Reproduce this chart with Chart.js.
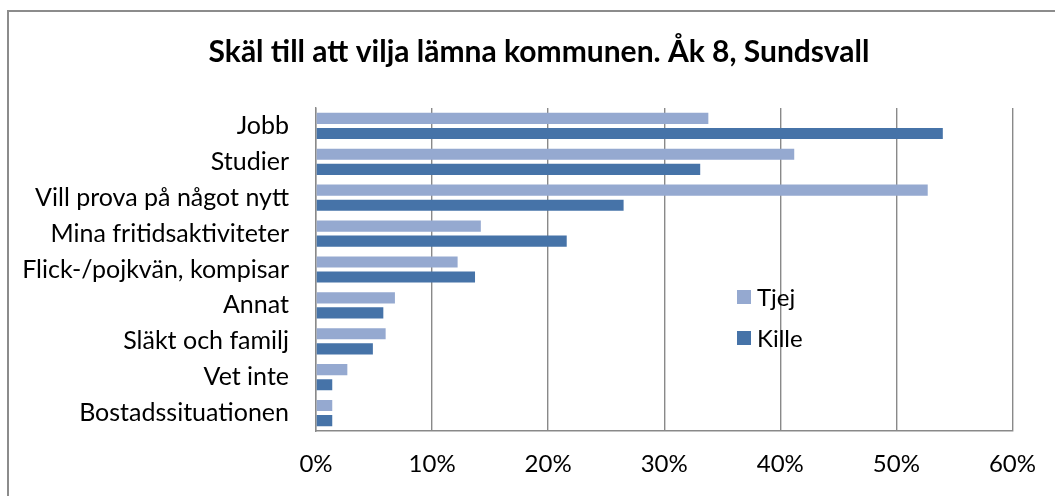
<!DOCTYPE html>
<html>
<head>
<meta charset="utf-8">
<title>Skäl till att vilja lämna kommunen</title>
<script src="https://cdn.jsdelivr.net/npm/chart.js@4.4.0/dist/chart.umd.min.js"></script>
<style>
  html, body { margin: 0; padding: 0; background: #ffffff; }
  #wrap { width: 1055px; height: 496px; position: relative; }
</style>
</head>
<body>
<div id="wrap"><canvas id="bar-chart" width="1055" height="496"></canvas></div>
<script>
// ===============================================================================
// 1. Data (in percent)
// ===============================================================================
var categories = ['Jobb', 'Studier', 'Vill prova på något nytt', 'Mina fritidsaktiviteter',
                  'Flick-/pojkvän, kompisar', 'Annat', 'Släkt och familj', 'Vet inte',
                  'Bostadssituationen'];
var tjejValues  = [33.8, 41.2, 52.7, 14.2, 12.2, 6.8, 6.0, 2.7, 1.4];
var killeValues = [54.0, 33.1, 26.5, 21.6, 13.7, 5.8, 4.9, 1.4, 1.4];
var seriesNames = ['Tjej', 'Kille'];
var xTicks = [0, 10, 20, 30, 40, 50, 60];

var titleText = 'Skäl till att vilja lämna kommunen. Åk 8, Sundsvall';
var fontName = 'Lato, "Open Sans", sans-serif';
var tjejColor = '#95a9d0';
var killeColor = '#4673a8';
var gridColor = '#898989';

// ===============================================================================
// 2. Small plugins: outer frame, title and a legend sitting inside the plot area
// ===============================================================================
var framePlugin = {
  id: 'frame',
  beforeDraw: function(chart) {
    var ctx = chart.ctx;
    ctx.save();
    ctx.fillStyle = '#ffffff';
    ctx.fillRect(0, 0, chart.width, chart.height);
    ctx.strokeStyle = '#8c8c8c';
    ctx.lineWidth = 2;
    ctx.strokeRect(8, 11, chart.width + 20, chart.height + 20);
    // title is centred over the whole frame, not the plot
    ctx.fillStyle = '#000000';
    ctx.font = 'bold 30px ' + fontName;
    ctx.textAlign = 'center';
    ctx.textBaseline = 'middle';
    ctx.fillText(titleText, 539, 52);
    ctx.restore();
  }
};

var insideLegend = {
  id: 'insideLegend',
  afterDraw: function(chart) {
    var ctx = chart.ctx;
    ctx.save();
    ctx.font = '24px ' + fontName;
    ctx.textBaseline = 'middle';
    ctx.textAlign = 'left';
    chart.data.datasets.forEach(function(ds, i) {
      var y = 297 + i * 41;
      ctx.fillStyle = ds.backgroundColor;
      ctx.fillRect(737, y - 7, 14, 14);
      ctx.fillStyle = '#000000';
      ctx.fillText(ds.label, 757, y + 1);
    });
    ctx.restore();
  }
};

// ===============================================================================
// 3. Horizontal bar chart
// ===============================================================================
function plotBarchart() {
  var chartCanvas = document.getElementById('bar-chart');

  var data = {
    labels: categories,
    datasets: [{
      label: seriesNames[0],
      data: tjejValues,
      backgroundColor: tjejColor,
      borderWidth: 0
    }, {
      label: seriesNames[1],
      data: killeValues,
      backgroundColor: killeColor,
      borderWidth: 0
    }]
  };

  var chartOptions = {
    indexAxis: 'y',
    responsive: false,
    animation: false,
    categoryPercentage: 0.84,
    barPercentage: 0.74,
    layout: { padding: { left: 0, right: 39, top: 108, bottom: 0 } },
    plugins: {
      legend: { display: false },
      tooltip: { enabled: false },
      title: { display: false }
    },
    scales: {
      x: {
        min: 0,
        max: 60,
        afterBuildTicks: function(axis) {
          axis.ticks = xTicks.map(function(v) { return { value: v }; });
        },
        afterFit: function(axis) { axis.height = 65; },
        grid: { color: gridColor, lineWidth: 1.4, drawTicks: false },
        border: { display: true, color: gridColor, width: 1.4 },
        ticks: {
          padding: 19,
          color: '#000000',
          font: { family: fontName, size: 24 },
          callback: function(v) { return v + '%'; }
        }
      },
      y: {
        afterFit: function(axis) { axis.width = 316; },
        grid: { display: false, drawTicks: false },
        border: { display: true, color: gridColor, width: 1.4 },
        ticks: {
          padding: 27,
          color: '#000000',
          font: { family: fontName, size: 25 },
          autoSkip: false
        }
      }
    }
  };

  var newChart = new Chart(chartCanvas, {
    type: 'bar',
    data: data,
    options: chartOptions,
    plugins: [framePlugin, insideLegend]
  });
}

plotBarchart();
</script>
</body>
</html>
